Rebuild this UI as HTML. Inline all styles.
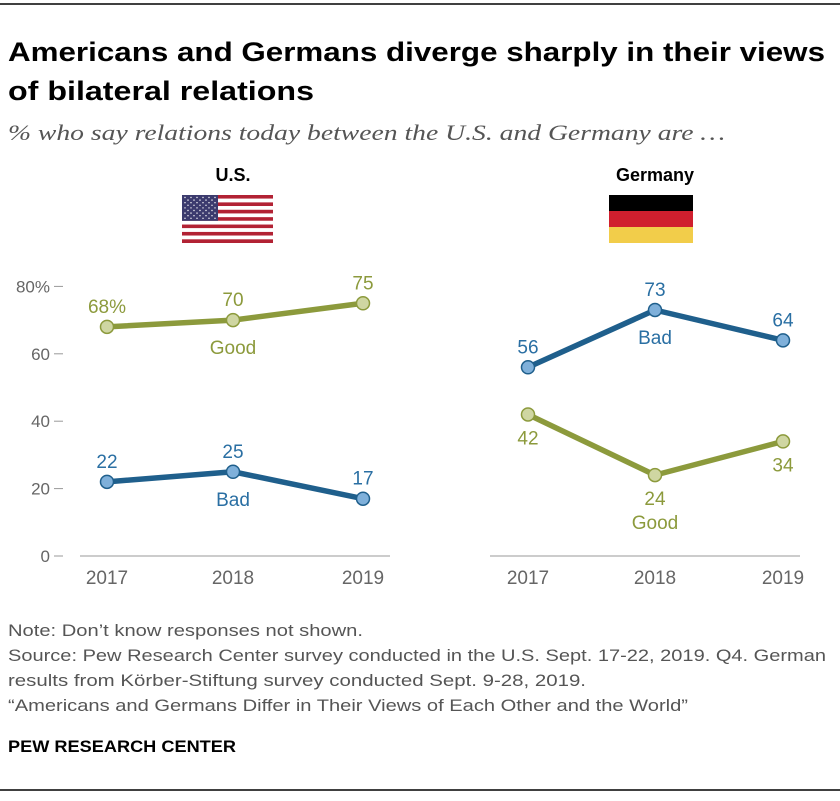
<!DOCTYPE html>
<html><head><meta charset="utf-8"><style>
body{margin:0;background:#fff;font-family:"Liberation Sans",sans-serif;}
svg text{font-family:"Liberation Sans",sans-serif;}
</style></head><body>
<svg id="c" width="840" height="796" viewBox="0 0 840 796" xmlns="http://www.w3.org/2000/svg">
<line x1="0" y1="4" x2="840" y2="4" stroke="#000" stroke-width="1.5"/>
<text x="8" y="61" font-size="27" font-weight="bold" fill="#000" textLength="817" lengthAdjust="spacingAndGlyphs">Americans and Germans diverge sharply in their views</text>
<text x="8" y="100" font-size="27" font-weight="bold" fill="#000" textLength="306" lengthAdjust="spacingAndGlyphs">of bilateral relations</text>
<text x="8" y="140" font-size="22" font-style="italic" fill="#555" textLength="717" lengthAdjust="spacingAndGlyphs" style="font-family:'Liberation Serif',serif">% who say relations today between the U.S. and Germany are …</text>
<text x="233" y="181" font-size="18" font-weight="bold" text-anchor="middle">U.S.</text>
<text x="655" y="181" font-size="18" font-weight="bold" text-anchor="middle">Germany</text>
<g id="usflag"></g>
<g>
<rect x="609" y="195" width="84" height="16" fill="#000"/>
<rect x="609" y="211" width="84" height="16" fill="#d01f2e"/>
<rect x="609" y="227" width="84" height="16" fill="#f2cd4a"/>
</g>
<g id="plot"></g>
<text x="8" y="636" font-size="17" fill="#555" textLength="355" lengthAdjust="spacingAndGlyphs">Note: Don’t know responses not shown.</text>
<text x="8" y="661" font-size="17" fill="#555" textLength="818" lengthAdjust="spacingAndGlyphs">Source: Pew Research Center survey conducted in the U.S. Sept. 17-22, 2019. Q4. German</text>
<text x="8" y="686" font-size="17" fill="#555" textLength="578" lengthAdjust="spacingAndGlyphs">results from Körber-Stiftung survey conducted Sept. 9-28, 2019.</text>
<text x="8" y="711" font-size="17" fill="#555" textLength="680" lengthAdjust="spacingAndGlyphs">“Americans and Germans Differ in Their Views of Each Other and the World”</text>
<text x="8" y="752" font-size="17" font-weight="bold" fill="#000" textLength="228" lengthAdjust="spacingAndGlyphs">PEW RESEARCH CENTER</text>
<line x1="0" y1="790" x2="840" y2="790" stroke="#000" stroke-width="1.5"/>
</svg>
<script>
const years=["2017","2018","2019"];
const usGood=[68,70,75];
const usBad=[22,25,17];
const deGood=[42,24,34];
const deBad=[56,73,64];
const yTicks=[0,20,40,60,80];
const yTickLabels=["0","20","40","60","80%"];
const NS="http://www.w3.org/2000/svg";
const plot=document.getElementById('plot');
function y(v){return 556-v*3.37;}
function mk(tag,attrs,parent){const e=document.createElementNS(NS,tag);for(const k in attrs)e.setAttribute(k,attrs[k]);(parent||plot).appendChild(e);return e;}
const fl=document.getElementById('usflag');
for(let i=0;i<13;i++){mk('rect',{x:182,y:195+i*48/13,width:91,height:48/13,fill:i%2?'#fff':'#b22234'},fl);}
mk('rect',{x:182,y:195,width:36,height:48*7/13,fill:'#3c3b6e'},fl);
for(let r=0;r<9;r++)for(let c=0;c<(r%2?5:6);c++)mk('circle',{cx:185+c*6+(r%2?3:0),cy:197.5+r*2.6,r:0.7,fill:'#fff'},fl);
yTicks.forEach((t,i)=>{
 const tx=mk('text',{x:50,y:y(t)+6,'font-size':17,fill:'#666','text-anchor':'end'});tx.textContent=yTickLabels[i];
 
 
 const l=mk('line',{x1:54,x2:63,y1:y(t),y2:y(t),stroke:'#999'});
 
 
});
const panels=[{x0:80,x1:390,xs:[107,233,363],good:usGood,bad:usBad,name:'us',goodBelow:false},{x0:490,x1:800,xs:[528,655,783],good:deGood,bad:deBad,name:'germany',goodBelow:true}];
const G={line:'#8c9a3c',fill:'#cfd6a2',text:'#8c9a3c'},B={line:'#1f5f8c',fill:'#7fb0da',text:'#2a6fa3'};
panels.forEach(p=>{
 const ax=mk('line',{x1:p.x0,x2:p.x1,y1:556,y2:556,stroke:'#bbb','stroke-width':1.5});
 
 
 years.forEach((yr,i)=>{const t=mk('text',{x:p.xs[i],y:584,'font-size':19,fill:'#666','text-anchor':'middle'});t.textContent=yr;
  
  });
 [[p.good,G,'good',p.goodBelow],[p.bad,B,'bad',false]].forEach(([vals,col,nm,below])=>{
  const pl=mk('polyline',{points:vals.map((v,i)=>p.xs[i]+','+y(v)).join(' '),fill:'none',stroke:col.line,'stroke-width':5.5,'stroke-linejoin':'round'});
  
  
  vals.forEach((v,i)=>{
   const c=mk('circle',{cx:p.xs[i],cy:y(v),r:6.5,fill:col.fill,stroke:col.line,'stroke-width':1.5});
   
   
   const t=mk('text',{x:p.xs[i],y:below?y(v)+30:y(v)-14,'font-size':19,fill:col.text,'text-anchor':'middle'});
   t.textContent=v+((p.name==='us'&&i===0&&nm==='good')?'%':'');
   
   
  });
  const lb=mk('text',{x:p.xs[1],y:below?y(vals[1])+54:y(vals[1])+34,'font-size':19,fill:col.text,'text-anchor':'middle'});
  lb.textContent=nm==='good'?'Good':'Bad';
  
  
 });
});
</script>
</body></html>
